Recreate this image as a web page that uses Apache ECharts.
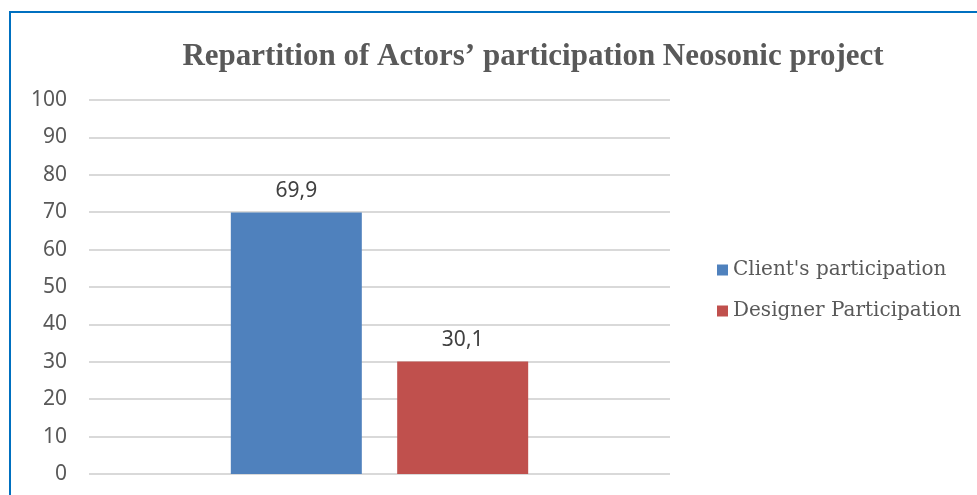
<!DOCTYPE html>
<html>
<head>
<meta charset="utf-8">
<script src="https://cdn.jsdelivr.net/npm/echarts@6/dist/echarts.min.js"></script>
<style>
  html, body { margin: 0; padding: 0; background: #fff; }
  #frame {
    position: absolute; left: 9px; top: 11px; width: 980px; height: 500px;
    border-left: 2px solid #0070C0; border-top: 2px solid #0070C0;
  }
  #chart { position: absolute; left: 0; top: 0; width: 977px; height: 495px; }
</style>
</head>
<body>
<div id="frame"></div>
<div id="chart"></div>
<script>
// données du graphique
const categories = ['Neosonic'];
const seriesNames = ["Client's participation", 'Designer Participation'];
const clientValues = [69.9];
const designerValues = [30.1];
const yTicks = { min: 0, max: 100, interval: 10 };

const colors = ['#4F81BD', '#C0504D'];
const chart = echarts.init(document.getElementById('chart'));

const labelStyle = {
  show: true,
  position: 'top',
  distance: 11,
  color: '#404040',
  fontFamily: 'Noto Sans',
  fontSize: 21,
  formatter: (p) => String(p.value).replace('.', ',')
};

const option = {
  animation: false,
  title: {
    text: 'Repartition of Actors\u2019 participation Neosonic project',
    left: 528,
    textAlign: 'center',
    top: 36,
    textStyle: { fontFamily: 'Liberation Serif', fontWeight: 'bold', fontSize: 31, color: '#595959' }
  },
  legend: {
    orient: 'vertical',
    left: 712,
    top: 255,
    itemWidth: 11,
    itemHeight: 11,
    itemGap: 21,
    icon: 'rect',
    data: seriesNames,
    textStyle: { fontFamily: 'DejaVu Serif', fontSize: 20, color: '#595959' }
  },
  grid: { left: 89, right: 307, top: 100, bottom: 21 },
  xAxis: {
    type: 'category',
    data: categories,
    axisLine: { show: false },
    axisTick: { show: false },
    axisLabel: { show: false }
  },
  yAxis: {
    type: 'value',
    min: yTicks.min,
    max: yTicks.max,
    interval: yTicks.interval,
    axisLine: { show: false },
    axisTick: { show: false },
    splitLine: { lineStyle: { color: '#D9D9D9', width: 2 } },
    axisLabel: { color: '#595959', fontFamily: 'Noto Sans', fontSize: 21, margin: 22 }
  },
  series: [
    { name: seriesNames[0], type: 'bar', data: clientValues, barWidth: 131, barGap: '27%', itemStyle: { color: colors[0] }, label: labelStyle },
    { name: seriesNames[1], type: 'bar', data: designerValues, barWidth: 131, itemStyle: { color: colors[1] }, label: labelStyle }
  ]
};

chart.setOption(option);
</script>
</body>
</html>
